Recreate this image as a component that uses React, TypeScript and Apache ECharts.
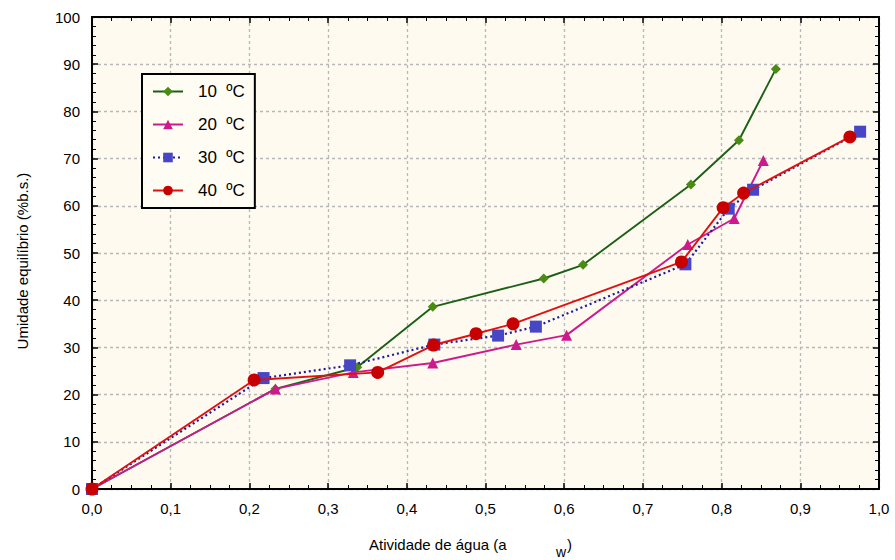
import React, { useEffect, useRef } from "react";
import * as echarts from "echarts";

const seriesNames = ["10 ºC", "20 ºC", "30 ºC", "40 ºC"];
const aw10 = [0.0, 0.233, 0.337, 0.433, 0.574, 0.624, 0.761, 0.822, 0.869];
const ue10 = [0.0, 21.2, 25.8, 38.6, 44.6, 47.5, 64.5, 73.9, 89.0];
const aw20 = [0.0, 0.233, 0.332, 0.433, 0.539, 0.603, 0.757, 0.816, 0.853];
const ue20 = [0.0, 21.2, 24.7, 26.7, 30.6, 32.6, 51.8, 57.3, 69.6];
const aw30 = [0.0, 0.218, 0.328, 0.435, 0.516, 0.564, 0.754, 0.809, 0.840, 0.976];
const ue30 = [0.0, 23.5, 26.2, 30.6, 32.5, 34.4, 47.6, 59.4, 63.4, 75.7];
const aw40 = [0.0, 0.206, 0.363, 0.434, 0.488, 0.535, 0.749, 0.802, 0.828, 0.963];
const ue40 = [0.0, 23.1, 24.7, 30.5, 32.9, 35.0, 48.1, 59.6, 62.7, 74.6];

const lineColors = ["#1c5f16", "#cc1a8c", "#1a1a9c", "#e01010"];
const markerColors = ["#4a8c12", "#cc1a8c", "#4646c6", "#c80000"];
const symbols = ["diamond", "triangle", "rect", "circle"];
const symbolSizes = [10, 11, 12, 13];
const lineTypes: any[] = ["solid", "solid", [2, 3], "solid"];

const zip = (a: number[], b: number[]) => a.map((v, i) => [v, b[i]]);

export default function App() {
  const ref = useRef<HTMLDivElement>(null);
  useEffect(() => {
    if (!ref.current) return;
    const chart = echarts.init(ref.current, null, { renderer: "svg" });
    const data = [zip(aw10, ue10), zip(aw20, ue20), zip(aw30, ue30), zip(aw40, ue40)];
    const font = "'Liberation Sans', Arial, sans-serif";
    const axisCommon = (pos: string, showLabel: boolean, isX: boolean) => ({
      position: pos,
      type: "value",
      min: 0,
      max: isX ? 1 : 100,
      interval: isX ? 0.1 : 10,
      axisLine: { show: true, onZero: false, lineStyle: { color: "#000", width: 2 } },
      axisTick: { show: true, inside: true, length: 6, lineStyle: { color: "#000", width: 1.5 } },
      minorTick: { show: true, splitNumber: isX ? 4 : 5, length: 4, lineStyle: { color: "#000", width: 1 } },
      splitLine: { show: showLabel, lineStyle: { color: "#b8b8b8", type: [3, 3], width: 1.3 } },
      axisLabel: {
        show: showLabel,
        color: "#000",
        fontSize: 15,
        fontFamily: font,
        margin: 12,
        formatter: (v: number) => (isX ? v.toFixed(1).replace(".", ",") : String(Math.round(v))),
      },
    });
    chart.setOption({
      animation: false,
      backgroundColor: "#ffffff",
      grid: {
        left: 92,
        right: 16,
        top: 17,
        bottom: 71,
        show: true,
        backgroundColor: "#fefaef",
        borderWidth: 0,
      },
      legend: {
        orient: "vertical",
        left: 142,
        top: 74,
        width: 113,
        padding: [9, 10, 9, 10],
        itemGap: 16,
        itemWidth: 30,
        itemHeight: 12,
        borderColor: "#000",
        borderWidth: 2,
        backgroundColor: "#fffcf4",
        textStyle: { fontSize: 17, fontFamily: font, color: "#000", padding: [0, 0, 0, 10] },
        formatter: (n: string) => n.replace(" ", "  "),
        data: seriesNames,
      },
      xAxis: [
        axisCommon("bottom", true, true),
        { ...axisCommon("top", false, true) },
      ],
      yAxis: [
        axisCommon("left", true, false),
        { ...axisCommon("right", false, false) },
      ],
      series: data.map((d, i) => ({
        name: seriesNames[i],
        type: "line",
        data: d,
        xAxisIndex: 0,
        yAxisIndex: 0,
        symbol: symbols[i],
        symbolSize: symbolSizes[i],
        showAllSymbol: true,
        lineStyle: { color: lineColors[i], width: i === 2 ? 2.2 : 1.9, type: lineTypes[i] },
        itemStyle: { color: markerColors[i], opacity: 1 },
        z: 2 + i,
      })),
      graphic: [
        {
          type: "text",
          rotation: Math.PI / 2,
          style: {
            text: "Umidade equilíbrio (%b.s.)",
            fontSize: 15,
            fontFamily: font,
            fill: "#000",
            align: "center",
            verticalAlign: "middle",
          },
          x: 22,
          y: 261,
        },
        {
          type: "text",
          x: 369,
          y: 537,
          style: { text: "Atividade de água (a", fontSize: 15, fontFamily: font, fill: "#000" },
        },
        {
          type: "text",
          x: 556,
          y: 545,
          style: { text: "w", fontSize: 14, fontFamily: font, fill: "#000" },
        },
        {
          type: "text",
          x: 567,
          y: 537,
          style: { text: ")", fontSize: 15, fontFamily: font, fill: "#000" },
        },
      ],
    });
    return () => chart.dispose();
  }, []);
  return <div ref={ref} style={{ width: 895, height: 560, position: "absolute", left: 0, top: 0 }} />;
}
